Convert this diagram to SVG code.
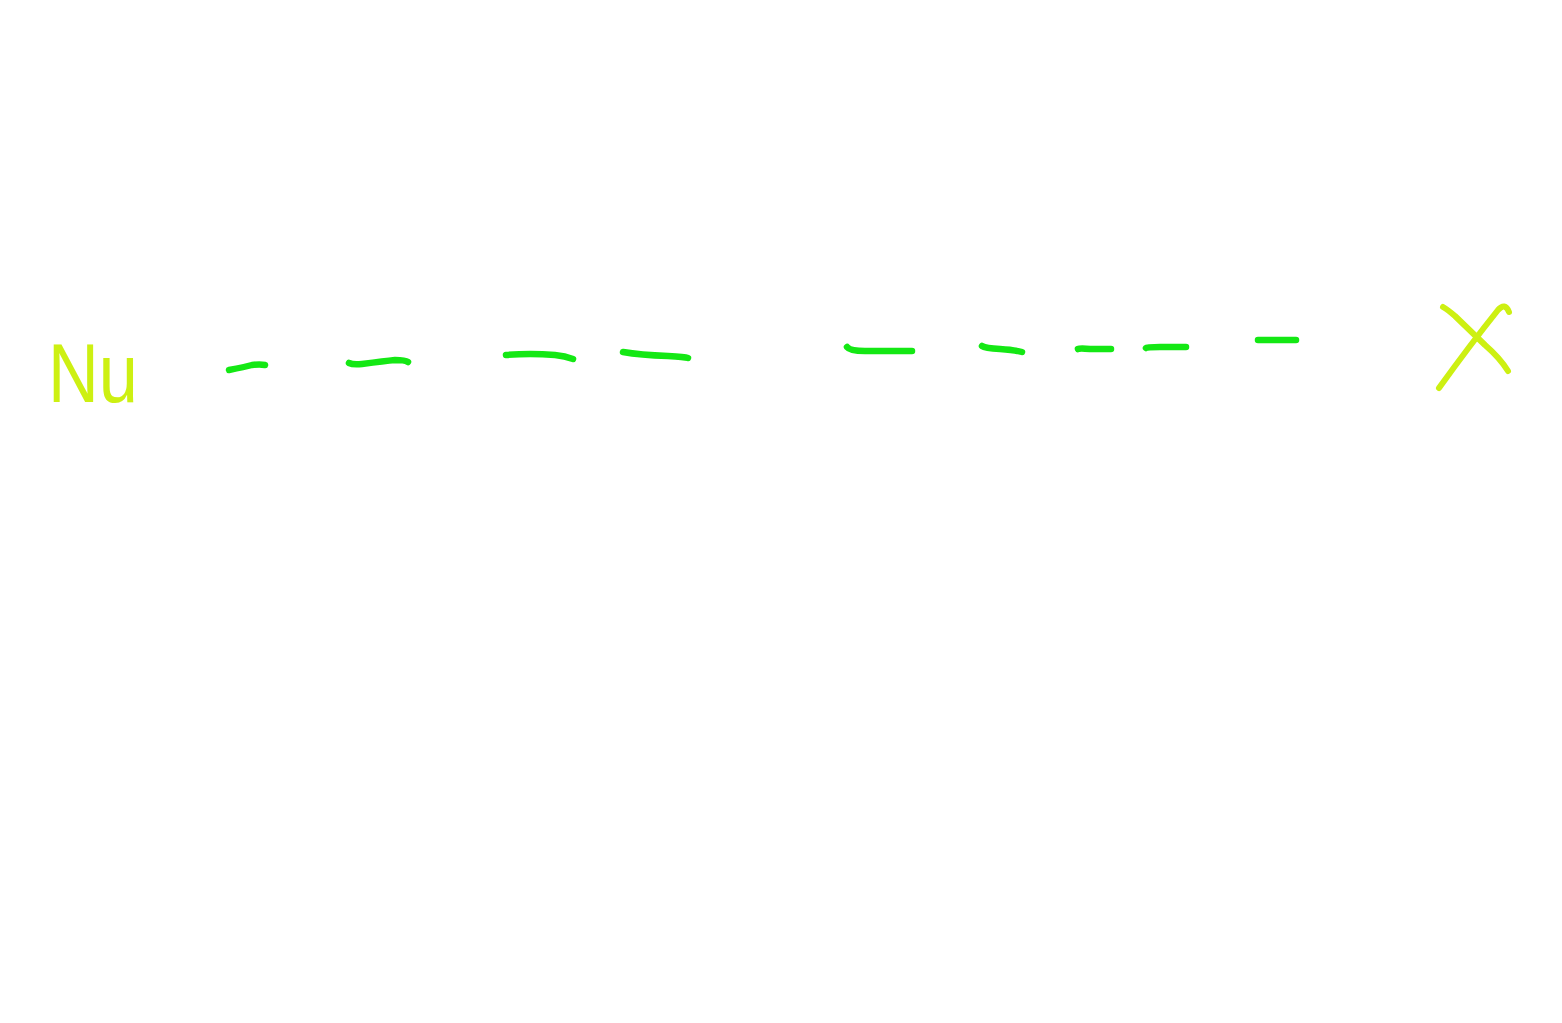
<svg xmlns="http://www.w3.org/2000/svg" width="1562" height="1023" viewBox="0 0 1562 1023">
<style>
.dash{fill:none;stroke:#14e814;stroke-width:6.5;stroke-linecap:round;stroke-linejoin:round}
.mark{fill:none;stroke:#cdf012;stroke-width:6;stroke-linecap:round;stroke-linejoin:round}
.lbl{font-family:"Liberation Sans",Arial,sans-serif;fill:#cdf012}
</style>
<rect width="1562" height="1023" fill="#ffffff"/>
<g id="start">
<text class="lbl" x="48" y="402" font-size="84" textLength="90" lengthAdjust="spacingAndGlyphs">Nu</text>
</g>
<g id="connectors">
<path class="dash" d="M229,370 Q245,367 252,365 Q260,364 265,365"/>
<path class="dash" d="M349,363 Q353,365 362,364 Q385,361 395,360 Q405,360 408,362"/>
<path class="dash" d="M506,355 Q530,353 555,355 Q565,356 573,359"/>
<path class="dash" d="M623,352 Q640,355 668,356 Q685,357 688,358"/>
<path class="dash" d="M847,347 Q850,351 865,351 Q895,351 912,351"/>
<path class="dash" d="M982,346 Q985,348 1000,349 Q1015,350 1022,352"/>
<path class="dash" d="M1078,349 Q1080,348 1090,349 Q1105,349 1111,349"/>
<path class="dash" d="M1146,348 Q1147,347 1160,347 Q1178,347 1186,347"/>
<path class="dash" d="M1258,340 L1296,340"/>
</g>
<g id="end">
<path class="mark" d="M1443,307 Q1448,310 1455,316 L1485,345 Q1500,358 1508,371"/>
<path class="mark" d="M1509,312 Q1505,302 1498,310 Q1470,345 1439,388"/>
</g>
</svg>
